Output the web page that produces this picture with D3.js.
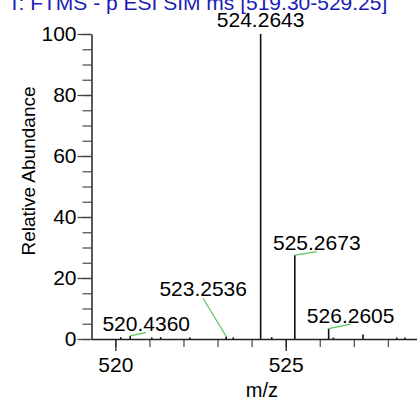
<!DOCTYPE html>
<html>
<head>
<meta charset="utf-8">
<script src="https://cdn.jsdelivr.net/npm/d3@7/dist/d3.min.js"></script>
<style>
  html, body { margin: 0; padding: 0; background: #fff; overflow: hidden; }
  svg { display: block; }
  text { font-family: "Liberation Sans", Arial, sans-serif; }
</style>
</head>
<body>
<svg id="chart" width="417" height="400"></svg>
<script>
// Scan header and axis ranges
const scanTitle = "T: FTMS - p ESI SIM ms [519.30-529.25]";
const mzRange = [519.30, 529.25];
const abundanceRange = [0, 100];

// Centroid peaks: m/z and relative abundance (%)
const peakMz   = [520.16, 520.4360, 521.07, 521.33, 522.19, 523.2536, 523.46, 524.2643, 524.59, 525.2673, 526.2605, 526.40, 527.27, 528.26, 528.50];
const peakAbund = [0.6,   1.0,      0.5,    0.6,    0.5,    0.8,      0.5,    100,      0.6,    27.5,     3.4,      0.5,    1.5,    0.5,    0.5];

// Peaks that carry an m/z annotation
const labeledMz = [520.4360, 523.2536, 524.2643, 525.2673, 526.2605];

// Axis ticks
const xMajorTicks = [520, 525];
const xMinorTicks = [520, 521, 522, 523, 524, 525, 526, 527, 528, 529];
const yMajorTicks = [0, 20, 40, 60, 80, 100];
const yMinorTicks = d3.range(0, 101, 5);

// Label placement relative to the peak apex (pixels): dx, dy to label baseline, leader end offset
const labelPlacement = {
  "520.4360": { dx: 16, dy: -5, lead: 1.5 },
  "523.2536": { dx: -23, dy: -41, lead: 3 },
  "524.2643": { dx: 0, dy: -7, lead: null },
  "525.2673": { dx: 22, dy: -5, lead: 1.5 },
  "526.2605": { dx: 22, dy: -6, lead: 1.5 }
};

const svg = d3.select("#chart");
const x = d3.scaleLinear().domain(mzRange).range([91.5, 430.5]);
const y = d3.scaleLinear().domain(abundanceRange).range([339, 34]);

const fontSize = 21;

// Title (runs past the top edge of the frame)
svg.append("text")
  .attr("x", 8).attr("y", 10)
  .attr("fill", "#1c1cb4")
  .attr("font-size", 21)
  .text(scanTitle);

// Y axis: minor then major ticks
const yMinor = svg.append("g").attr("transform", `translate(${x(mzRange[0])},0)`)
  .call(d3.axisLeft(y).tickValues(yMinorTicks).tickSize(9).tickSizeOuter(0).tickFormat(""));
yMinor.select(".domain").remove();
yMinor.selectAll("line").attr("stroke", "#555").attr("stroke-width", 1.3);

const yMajor = svg.append("g").attr("transform", `translate(${x(mzRange[0])},0)`)
  .call(d3.axisLeft(y).tickValues(yMajorTicks).tickSize(14).tickSizeOuter(0).tickPadding(1));
yMajor.select(".domain").attr("stroke", "#222").attr("stroke-width", 1.5);
yMajor.selectAll("line").attr("stroke", "#444").attr("stroke-width", 1.3);
yMajor.selectAll("text").attr("font-size", fontSize).attr("fill", "#000")
  .attr("font-family", "Liberation Sans, Arial, sans-serif");

// X axis: minor then major ticks
const xMinor = svg.append("g").attr("transform", `translate(0,${y(0)})`)
  .call(d3.axisBottom(x).tickValues(xMinorTicks).tickSize(8).tickSizeOuter(0).tickFormat(""));
xMinor.select(".domain").remove();
xMinor.selectAll("line").attr("stroke", "#555").attr("stroke-width", 1.3);

const xMajor = svg.append("g").attr("transform", `translate(0,${y(0)})`)
  .call(d3.axisBottom(x).tickValues(xMajorTicks).tickSize(12).tickSizeOuter(0).tickPadding(6).tickFormat(d3.format("d")));
xMajor.select(".domain").attr("stroke", "#222").attr("stroke-width", 1.5);
xMajor.selectAll("line").attr("stroke", "#222").attr("stroke-width", 1.3);
xMajor.selectAll("text").attr("font-size", fontSize).attr("fill", "#000")
  .attr("font-family", "Liberation Sans, Arial, sans-serif");

// Axis titles
svg.append("text")
  .attr("x", x(524.3)).attr("y", 397)
  .attr("text-anchor", "middle")
  .attr("font-size", 20)
  .text("m/z");

svg.append("text")
  .attr("transform", `translate(35,171) rotate(-90)`)
  .attr("text-anchor", "middle")
  .attr("font-size", 19)
  .text("Relative Abundance");

// Stick spectrum
const peaks = peakMz.map((m, i) => ({ mz: m, ab: peakAbund[i] }));
svg.append("g").selectAll("line")
  .data(peaks)
  .join("line")
  .attr("x1", d => x(d.mz)).attr("x2", d => x(d.mz))
  .attr("y1", y(0)).attr("y2", d => y(d.ab))
  .attr("stroke", "#111")
  .attr("stroke-width", 1.6);

// Annotations with green leader lines
const labels = labeledMz.map(m => {
  const i = peakMz.indexOf(m);
  const key = m.toFixed(4);
  const p = labelPlacement[key];
  const px = x(m), py = y(peakAbund[i]);
  return { text: key, px, py, lx: px + p.dx, ly: py + p.dy, lead: p.lead };
});

const ann = svg.append("g");
ann.selectAll("line")
  .data(labels.filter(d => d.lead !== null))
  .join("line")
  .attr("x1", d => d.px).attr("y1", d => d.py)
  .attr("x2", d => d.lx).attr("y2", d => d.ly + d.lead)
  .attr("stroke", "#5cc45c")
  .attr("stroke-width", 1.2);

ann.selectAll("text")
  .data(labels)
  .join("text")
  .attr("x", d => d.lx).attr("y", d => d.ly)
  .attr("text-anchor", "middle")
  .attr("font-size", fontSize)
  .attr("fill", "#000")
  .text(d => d.text);
</script>
</body>
</html>
